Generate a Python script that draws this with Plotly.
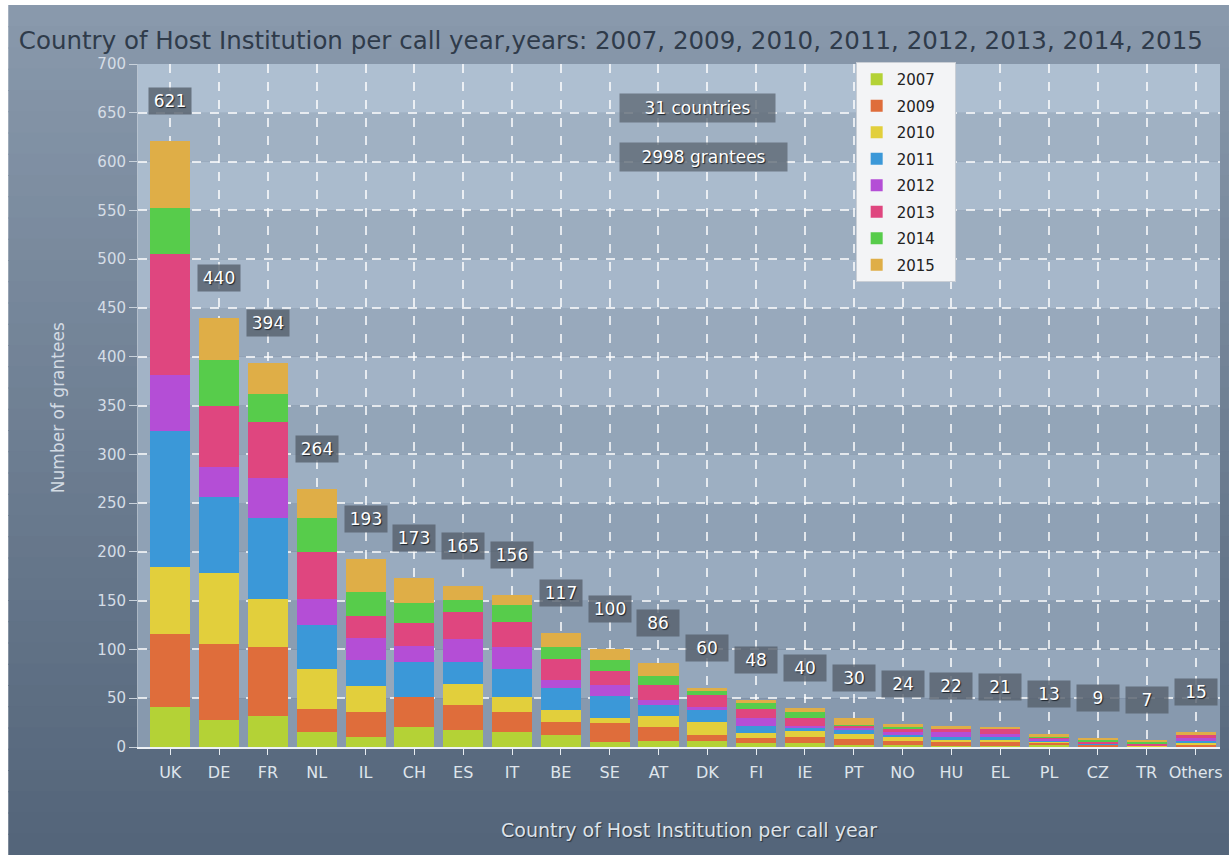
import plotly.graph_objects as go

countries = ["UK", "DE", "FR", "NL", "IL", "CH", "ES", "IT", "BE", "SE", "AT",
             "DK", "FI", "IE", "PT", "NO", "HU", "EL", "PL", "CZ", "TR", "Others"]

y2007 = [41, 28, 32, 15, 10, 20, 17, 15, 12, 5, 6, 6, 4, 4, 2, 2, 1, 1, 2, 1, 1, 1]
y2009 = [75, 78, 71, 24, 26, 31, 26, 21, 14, 20, 14, 6, 5, 6, 6, 4, 5, 4, 3, 2, 0, 2]
y2010 = [68, 72, 49, 41, 27, 0, 22, 15, 12, 5, 12, 14, 5, 6, 5, 4, 2, 3, 1, 0, 1, 2]
y2011 = [140, 78, 83, 45, 26, 36, 22, 29, 22, 22, 11, 12, 8, 4, 5, 3, 2, 2, 1, 1, 0, 1]
y2012 = [57, 31, 41, 27, 23, 17, 24, 22, 9, 12, 5, 3, 8, 2, 2, 2, 6, 3, 2, 0, 0, 3]
y2013 = [124, 63, 57, 48, 22, 23, 27, 26, 21, 14, 16, 12, 9, 8, 2, 4, 2, 5, 1, 1, 1, 3]
y2014 = [47, 47, 29, 35, 25, 21, 13, 18, 12, 11, 9, 5, 6, 6, 1, 1, 0, 0, 1, 3, 3, 0]
y2015 = [69, 43, 32, 29, 34, 25, 14, 10, 15, 11, 13, 2, 3, 4, 7, 4, 4, 3, 2, 1, 1, 3]

years = ["2007", "2009", "2010", "2011", "2012", "2013", "2014", "2015"]
series = [y2007, y2009, y2010, y2011, y2012, y2013, y2014, y2015]
colors = ["#b4d236", "#df6d3b", "#e2cf3c", "#3b98d8", "#b44ed6",
          "#df467f", "#57cc4b", "#dfae47"]

y_ticks = list(range(0, 701, 50))
summary_texts = ["31 countries", "2998 grantees"]

totals = [sum(v) for v in zip(*series)]

W, H = 1229, 855
ML, MR, MT, MB = 138, 7, 64, 108
PW, PH = W - ML - MR, H - MT - MB


def px_x(px):
    return (px - ML) / PW


def px_y(py):
    return (H - MB - py) / PH


FONT = "DejaVu Sans"

fig = go.Figure()
for yr, vals, col in zip(years, series, colors):
    fig.add_trace(go.Bar(
        x=countries, y=vals, name=yr + "   ",
        marker=dict(color=col, line=dict(width=0)),
        legendgroup=yr,
    ))

shapes = []
# outer panel gradient background
n = 40
top_c = (137, 153, 172)
bot_c = (84, 101, 122)
for i in range(n):
    t = i / (n - 1)
    c = tuple(int(top_c[k] + (bot_c[k] - top_c[k]) * t) for k in range(3))
    y0 = 5 + (H - 5) * i / n
    y1 = 5 + (H - 5) * (i + 1) / n + 1
    shapes.append(dict(type="rect", xref="paper", yref="paper",
                       x0=px_x(8), x1=px_x(W + 2), y0=px_y(y1), y1=px_y(y0),
                       fillcolor="rgb(%d,%d,%d)" % c, line=dict(width=0),
                       layer="below"))

# plot-area alternating bands
for j, b in enumerate(y_ticks[:-1]):
    frac = b / 700
    base = (140 + 30 * frac, 158 + 28 * frac, 179 + 25 * frac)
    d = 7 if j % 2 == 1 else -5
    c = tuple(int(min(255, base[k] + d)) for k in range(3))
    shapes.append(dict(type="rect", xref="paper", yref="y",
                       x0=0, x1=1, y0=b, y1=b + 50,
                       fillcolor="rgb(%d,%d,%d)" % c, line=dict(width=0),
                       layer="below"))

annotations = []
for c, t in zip(countries, totals):
    annotations.append(dict(
        x=c, y=t, xref="x", yref="y", text=str(t), showarrow=False,
        yshift=40, yanchor="middle", width=40, height=24,
        bgcolor="rgba(88,98,110,0.82)",
        font=dict(family=FONT, size=17, color="#ffffff",
                  shadow="1px 1px 1px #1c232b"),
    ))

for txt, (xp, yp, w) in zip(summary_texts, [(620, 108, 153), (620, 157, 165)]):
    annotations.append(dict(
        x=px_x(xp), y=px_y(yp), xref="paper", yref="paper", text=txt,
        showarrow=False, xanchor="left", yanchor="middle", width=w, height=26,
        bgcolor="rgba(95,106,118,0.8)",
        font=dict(family=FONT, size=17, color="#ffffff",
                  shadow="1px 1px 1px #1c232b"),
    ))

annotations.append(dict(
    x=px_x(58), y=px_y(408), xref="paper", yref="paper",
    text="Number of grantees", textangle=-90, showarrow=False,
    xanchor="center", yanchor="middle",
    font=dict(family=FONT, size=17, color="#d3dbe4"),
))
annotations.append(dict(
    x=px_x(690), y=px_y(830), xref="paper", yref="paper",
    text="Country of Host Institution per call year", showarrow=False,
    xanchor="center", yanchor="middle",
    font=dict(family=FONT, size=19, color="#dde3ea",
              shadow="1px 1px 1px #2a3440"),
))

fig.update_layout(
    width=W, height=H,
    margin=dict(l=ML, r=MR, t=MT, b=MB, pad=0),
    barmode="stack", bargap=0.18,
    paper_bgcolor="#ffffff", plot_bgcolor="rgba(0,0,0,0)",
    title=dict(text="Country of Host Institution per call year,years: 2007, 2009, 2010, 2011, 2012, 2013, 2014, 2015",
               x=0.497, xref="container", xanchor="center",
               y=1 - 40 / H, yref="container", yanchor="middle",
               font=dict(family=FONT, size=24.5, color="#2f3b4a")),
    legend=dict(x=px_x(857), y=px_y(62), xanchor="left", yanchor="top",
                bgcolor="#f3f4f6", bordercolor="#c9ced5", borderwidth=1,
                traceorder="grouped", tracegroupgap=4,
                font=dict(family=FONT, size=15, color="#222222"),
                itemwidth=30),
    xaxis=dict(range=[-0.66, 21.5], showgrid=True, griddash="dash",
               gridcolor="rgba(255,255,255,0.75)", gridwidth=1.5,
               ticks="outside", ticklen=6, tickcolor="#e8edf2",
               showline=True, linecolor="#eef2f6", linewidth=2,
               ticklabelstandoff=4,
               tickfont=dict(family=FONT, size=16, color="#dfe5ec"),
               fixedrange=True),
    yaxis=dict(range=[0, 700], tickvals=y_ticks, showgrid=True, griddash="dash",
               gridcolor="rgba(255,255,255,0.75)", gridwidth=1.5,
               ticks="outside", ticklen=8, tickcolor="#c9d2dc",
               showline=True, linecolor="rgba(220,228,236,0.6)", linewidth=1,
               zeroline=False,
               tickfont=dict(family=FONT, size=15, color="#d5dde6"),
               fixedrange=True),
    shapes=shapes,
    annotations=annotations,
)

fig.write_html("out.html")
